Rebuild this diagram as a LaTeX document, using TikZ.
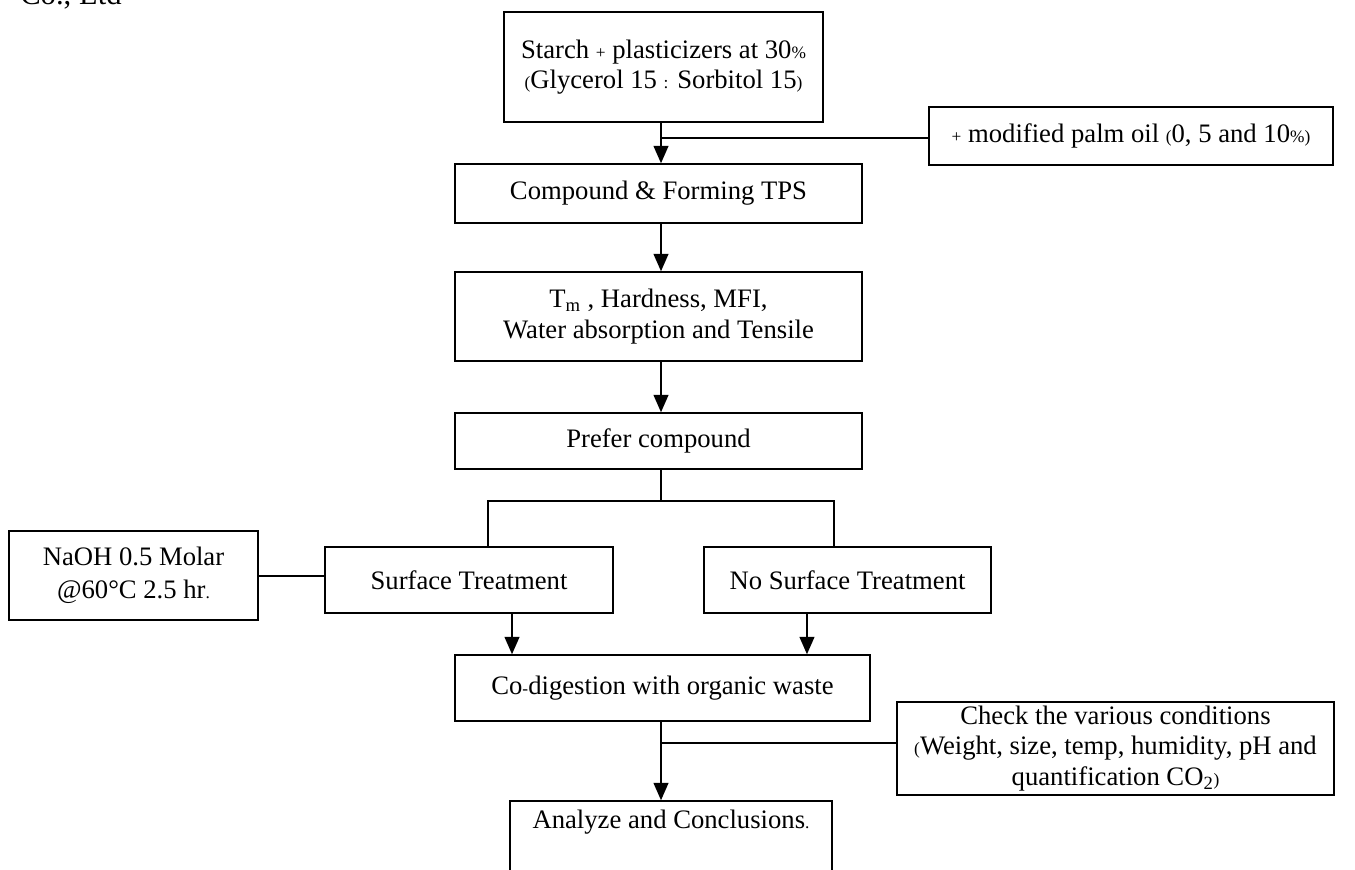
\documentclass[tikz,border=0pt]{standalone}
\usepackage{fontspec}
\setmainfont{Liberation Serif}
\usetikzlibrary{arrows.meta}
% smaller glyphs used for signs and brackets inside the labels
\newcommand{\sm}[1]{{\fontsize{13}{15}\selectfont #1}}

\begin{document}
\begin{tikzpicture}[x=0.75pt,y=-0.75pt,
  box/.style={draw, line width=1.1pt, inner sep=0pt, align=center,
              font=\fontsize{20}{22.5}\selectfont},
  sz/.style 2 args={minimum width=#1*0.75pt, minimum height=#2*0.75pt},
  lbl/.style={inner sep=0pt, align=center, font=\fontsize{20}{22.5}\selectfont},
  link/.style={line width=1.5pt},
  flow/.style={link, -{Triangle[length=13pt,width=11pt]}}]
\useasboundingbox (0,0) rectangle (1355,869);

% running header, cut by the page edge
\node[anchor=base west, inner sep=0pt, font=\fontsize{23}{26}\selectfont] (hd) at (20,4) {Co., Ltd};

% main column
\node[box, sz={319}{110}] (s0) at (663.5,67)
  {Starch \sm{+} plasticizers at 30\sm{\%}\\\sm{(}Glycerol 15 \sm{:} Sorbitol 15\sm{)}};
\node[box, sz={404}{58}] (s1) at (1131,136)
  {\sm{+} modified palm oil \sm{(}0, 5 and 10\sm{\%)}};
\node[box, sz={407}{59}] (c1) at (658.5,193.5) {Compound \& Forming TPS};
\node[box, sz={407}{89}, font=\fontsize{20}{23.5}\selectfont] (c2) at (658.5,316.5)
  {T\textsubscript{m} , Hardness, MFI,\\Water absorption and Tensile};
\node[box, sz={407}{56}] (c3) at (658.5,441) {Prefer compound};
\node[box, sz={249}{89}, font=\fontsize{20}{25}\selectfont] (n0) at (133.5,575.5)
  {NaOH 0.5 Molar\\@60°C 2.5 hr\sm{.}};
\node[box, sz={288}{66}] (c4) at (469,580) {Surface Treatment};
\node[box, sz={287}{66}] (c5) at (847.5,580) {No Surface Treatment};
\node[box, sz={415}{66}] (c6) at (662.5,688) {Co\sm{-}digestion with organic waste};
\node[box, sz={437}{93}, font=\fontsize{20}{23}\selectfont] (k0) at (1115.5,748.5)
  {Check the various conditions\\\sm{(}Weight, size, temp, humidity, pH and\\quantification CO\textsubscript{2}\sm{)}};
\node[box, sz={322}{99}] (c7) at (671,850.5) {};
\node[lbl] (t7) at (671,822) {Analyze and Conclusions\sm{.}};

% connectors
\coordinate (j0) at (661,138);
\draw[link] (s0.south -| j0) -- (j0) -- (j0 -| s1.west);
\draw[flow] (j0) -- (c1.north -| j0);
\draw[flow] (c1.south -| j0) -- (c2.north -| j0);
\draw[flow] (c2.south -| j0) -- (c3.north -| j0);

\coordinate (j1) at (661,501);
\coordinate (jl) at (488,501);
\coordinate (jr) at (834,501);
\draw[link] (c3.south -| j1) -- (j1);
\draw[link] (c4.north -| jl) -- (jl) -- (jr) -- (c5.north -| jr);
\draw[link] (n0.east) -- (n0.east -| c4.west);

\draw[flow] ([xshift=32.25pt]c4.south) -- ([xshift=32.25pt]c4.south |- c6.north);
\draw[flow] ([xshift=-30.4pt]c5.south) -- ([xshift=-30.4pt]c5.south |- c6.north);

\coordinate (j2) at (661,743);
\draw[flow] (c6.south -| j0) -- (c7.north -| j0);
\draw[link] (j2) -- (j2 -| k0.west);
\end{tikzpicture}
\end{document}
